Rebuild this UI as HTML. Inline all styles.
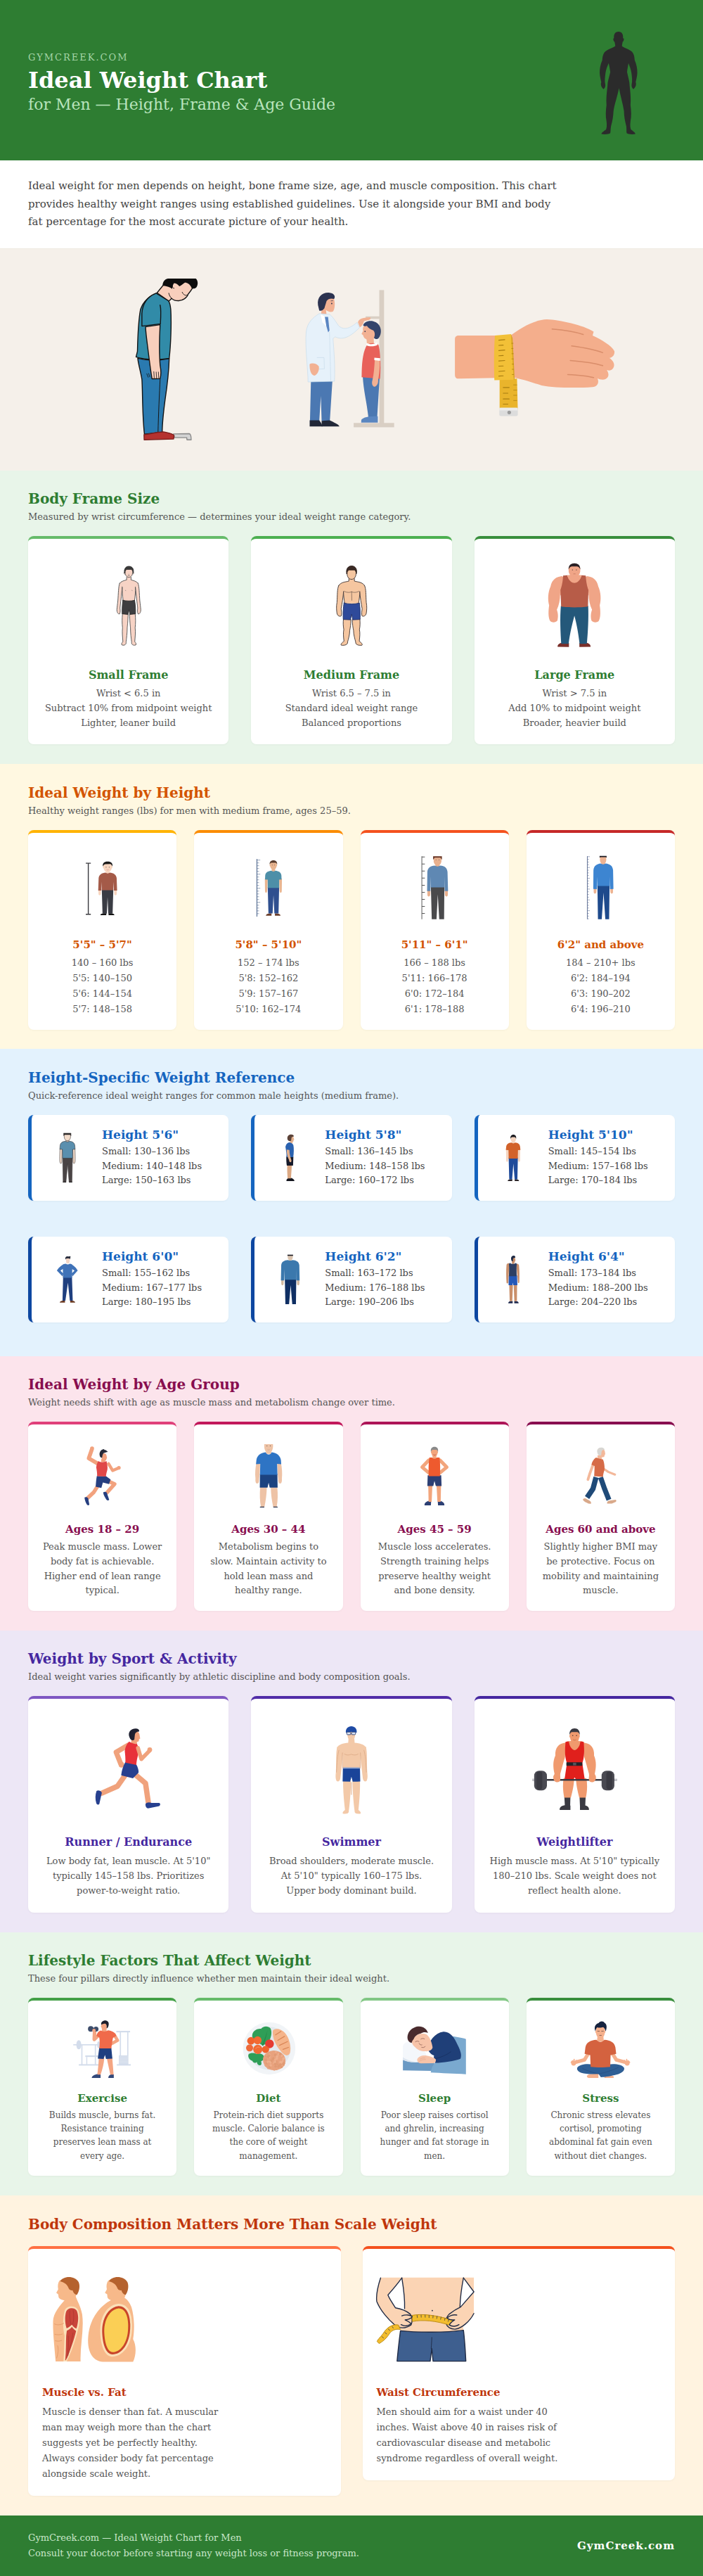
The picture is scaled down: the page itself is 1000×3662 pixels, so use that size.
<!DOCTYPE html>
<html lang="en">
<head>
<meta charset="utf-8">
<title>Ideal Weight Chart for Men</title>
<style>
*{box-sizing:border-box;margin:0;padding:0}
html,body{width:1000px;background:#fff}
body{font-family:"DejaVu Serif","Liberation Serif",serif;color:#444}
.hdr{background:#2e7d32;height:228px;padding:74px 40px 0 40px}
.hdr .site{font-size:13px;letter-spacing:2px;color:#a5d6a7;line-height:16px}
.hdr h1{font-size:32px;line-height:38px;color:#fff;font-weight:bold;margin-top:5px}
.hdr .sub{font-size:22px;line-height:26px;color:#b9e4bd;margin-top:3px}
svg.ab{position:absolute;display:block;overflow:visible}
body{position:relative}
.intro{background:#fff;padding:24px 40px;font-size:15px;line-height:25.5px;color:#444;height:125px}
.intro p{width:760px}
.strip{background:#f5f0ea;height:316px;border-top:1px solid #efeae2}
.sec{padding:28px 40px 28px 40px}
.sec h2{font-size:20px;line-height:24px;font-weight:bold;padding-top:1px}
.sec .lead{font-size:13px;line-height:15px;color:#555;margin-top:6px;margin-bottom:20px}
.grid{display:flex;gap:32px}
.grid.g4{gap:25px}
.grid.g2{gap:31px;align-items:flex-start}
.card{background:#fff;border-radius:8px;border-top:4px solid #66bb6a;flex:1 1 0;min-width:0;text-align:center;padding:24px 20px 20px;box-shadow:0 1px 3px rgba(0,0,0,.04)}
.card .ill{display:flex;align-items:center;justify-content:center;margin:0 auto}
.ill svg{display:block}
.i120{height:140px}
.i100{height:110px}
.i90{height:100px}
.s6 .i90{height:90px}
.i130{height:150px}
.card h3{font-size:15px;line-height:18px;font-weight:bold;margin-top:16px;margin-bottom:5px}
.s1 .card h3,.s5 .card h3{font-size:16px;line-height:19px;margin-top:20px;margin-bottom:8px}
.card p{font-size:13px;line-height:20.8px;color:#555}
.s2 .card p{line-height:22px}
.s2 .card{padding-bottom:18px}.s2 .card h3{margin-bottom:6px}
.s4 .card{padding-bottom:18px}.s4 .card h3{margin-bottom:6px}
.s5 .card{padding-bottom:21px}.s1 .card h3{margin-bottom:7px}
.s6 .card{padding-bottom:18px}.s6 .card h3{margin-bottom:7px}
.s1,.s4,.s5,.s6{padding-top:27px}
.s6 .card p{font-size:12px;line-height:19.2px;margin-top:-1px}
.s1{background:#e8f5e9;height:417px}.s1 h2,.s1 h3{color:#2e7d32}
.s2{background:#fff8e1;height:405px}.s2 h2,.s2 h3{color:#d35400}
.s3{background:#e3f2fd;height:437px}.s3 h2,.s3 h3{color:#1565c0}
.s4{background:#fce4ec;height:390px}.s4 h2,.s4 h3{color:#880e4f}
.s5{background:#ede7f6;height:429px}.s5 h2,.s5 h3{color:#4527a0}
.s6{background:#e8f5e9;height:374px}.s6 h2,.s6 h3{color:#2e7d32}
.s7{background:#fff3e0;height:455px}.s7 h2,.s7 h3{color:#bf360c}
.c1a{border-top-color:#66bb6a}.c1b{border-top-color:#4caf50}.c1c{border-top-color:#388e3c}
.c2a{border-top-color:#ffb300}.c2b{border-top-color:#fb8c00}.c2c{border-top-color:#f4511e}.c2d{border-top-color:#c62828}
.c4a{border-top-color:#e0407a}.c4b{border-top-color:#c2185b}.c4c{border-top-color:#ad1457}.c4d{border-top-color:#880e4f}
.c5a{border-top-color:#7e57c2}.c5b{border-top-color:#512da8}.c5c{border-top-color:#4527a0}
.c6a{border-top-color:#43a047}.c6b{border-top-color:#66bb6a}.c6c{border-top-color:#81c784}.c6d{border-top-color:#388e3c}
.hcard{background:#fff;border-radius:8px;border-left:5px solid #1565c0;flex:1 1 0;min-width:0;height:122px;padding:18px 18px 18px 18px;display:flex;align-items:center;box-shadow:0 1px 3px rgba(0,0,0,.04)}
.hcard.dk{border-left-color:#0d47a1}
.hcard .ill{width:64px;height:80px;margin-right:18px;flex:none;display:flex;align-items:center;justify-content:center}
.hcard h3{font-size:17px;line-height:20px;font-weight:bold;margin-bottom:4px}
.hcard p{font-size:13px;line-height:20.8px;color:#444}
.row2{margin-top:51px}
.s7 h2{margin-bottom:19px}
.c7{border-top-color:#ff7043;text-align:left;padding:20px 20px 20px}
.c7 .ill{justify-content:flex-start;margin:0}
.c7b{border-top-color:#f4511e}
.i140{height:160px}
.i100b{height:160px}
.c7 h3{margin-top:15px;margin-bottom:8px}
.c7 p{line-height:22.1px;max-width:262px}
.ftr{background:#2e7d32;height:86px;padding:0 40px;display:flex;justify-content:space-between;align-items:center;color:#c8e6c9;font-size:13px;line-height:22px}
.ftr b{color:#fff;font-size:15px;letter-spacing:1px}
</style>
</head>
<body>
<div class="hdr">
  <div class="site">GYMCREEK.COM</div>
  <h1>Ideal Weight Chart</h1>
  <div class="sub">for Men — Height, Frame &amp; Age Guide</div>
  <svg class="ab" style="left:830px;top:30px" width="100" height="175" viewBox="0 0 703 1230"><path fill="#2b2b2b" d="M350,105 C385,105 400,135 395,170 L405,175 L400,200 L392,205 C388,225 385,240 385,250 C400,265 440,275 470,295 C500,310 510,350 512,390 C530,430 540,480 538,520 C536,560 525,590 522,610 C530,630 525,660 500,680 C485,670 478,650 482,630 C490,600 485,560 480,520 C475,480 460,450 450,420 C445,450 438,480 436,510 C445,560 462,600 462,650 C470,720 475,780 470,840 C478,900 480,950 470,1000 C465,1040 468,1070 475,1085 C495,1100 520,1115 518,1128 C490,1135 445,1130 432,1120 C428,1100 432,1080 428,1050 C415,1000 405,950 405,900 C395,830 370,750 355,670 C340,750 310,830 300,900 C298,950 290,1000 275,1050 C270,1080 272,1100 268,1120 C255,1130 210,1135 180,1128 C178,1115 205,1100 225,1085 C232,1070 235,1040 230,1000 C220,950 222,900 230,840 C225,780 232,720 240,650 C240,600 258,560 268,510 C265,480 258,450 252,420 C240,450 225,480 220,520 C215,560 210,600 218,630 C222,650 215,670 200,680 C175,660 170,630 178,610 C175,590 164,560 162,520 C160,480 170,430 188,390 C190,350 200,310 230,295 C260,275 300,265 318,250 C318,240 315,225 310,205 L302,200 L297,175 L305,170 C300,135 315,105 350,105 Z"/></svg>
</div>
<div class="intro"><p>Ideal weight for men depends on height, bone frame size, age, and muscle composition. This chart provides healthy weight ranges using established guidelines. Use it alongside your BMI and body fat percentage for the most accurate picture of your health.</p></div>
<div class="strip"><svg class="ab" style="left:170px;top:380px" width="140" height="260" viewBox="0 0 703 1306"><g stroke="#141414" stroke-width="7" stroke-linejoin="round" stroke-linecap="round">
<path fill="#d4d4d4" stroke="#8a8a8a" d="M385,1190 L498,1188 C510,1190 512,1210 512,1232 L482,1232 L480,1216 L392,1216 Z"/>
<path fill="#2a7ab0" d="M130,650 C200,668 290,664 355,652 C352,750 340,850 325,950 C312,1050 305,1120 305,1178 L178,1192 C162,1050 166,900 160,800 C150,740 136,700 130,650 Z"/>
<path fill="none" d="M290,800 C285,900 278,1050 275,1180" stroke-width="5"/>
<path fill="#b5322f" stroke="#7a1f1c" d="M175,1195 C230,1188 290,1172 320,1176 C350,1182 385,1188 390,1202 L386,1226 L176,1232 Z"/>
<path fill="#f8cfbc" d="M268,182 L352,242 L372,222 C400,246 440,242 465,224 C480,214 488,202 490,192 C500,180 512,165 520,150 C510,125 490,108 470,105 C440,100 400,105 380,112 C355,118 330,128 312,128 Z"/>
<path fill="#0d0d0d" stroke="none" d="M308,126 C310,100 325,84 345,80 L545,80 C562,95 562,125 550,142 C542,152 528,154 519,151 C512,130 495,112 472,106 C455,118 440,132 428,136 C418,122 402,110 388,113 C380,126 378,142 376,154 C362,140 340,134 308,130 Z"/>
<path fill="none" d="M383,118 C372,135 378,150 390,150" stroke-width="5"/>
<path fill="none" d="M448,178 C455,195 470,205 484,198" stroke-width="5"/>
<path fill="none" d="M352,185 C355,200 362,212 372,222" stroke-width="5"/>
<path fill="#318ba8" d="M262,185 C220,200 170,240 150,300 C135,380 130,500 128,600 L118,640 C180,662 280,662 355,650 C366,560 372,400 366,300 C362,262 356,248 350,240 Z"/>
<path fill="#f8cfbc" d="M186,425 L290,410 C285,500 282,600 290,700 C298,740 296,775 290,795 L232,796 C222,740 210,640 200,560 C192,500 187,460 186,425 Z"/>
<path fill="#318ba8" d="M262,185 C210,205 165,250 160,330 L160,420 L292,404 C296,340 298,300 290,270" />
<path fill="none" d="M245,745 L248,790 M262,748 L265,792 M278,748 L280,790 M195,760 L205,785 M208,758 L216,782" stroke-width="4"/>
</g></svg><svg class="ab" style="left:420px;top:390px" width="160" height="240" viewBox="0 0 703 1054"><rect x="525" y="98" width="30" height="835" fill="#d9cfc4"/>
<rect x="365" y="928" width="253" height="27" fill="#d9cfc4"/>
<rect x="440" y="262" width="90" height="16" fill="#d9cfc4"/>
<!-- boy -->
<path fill="#4b78b2" d="M422,640 L527,648 L512,892 L457,892 C447,800 426,720 422,640 Z"/>
<path fill="#5a86c0" d="M413,908 C428,892 450,886 516,886 L516,926 L412,926 Z"/>
<path fill="#f2b193" d="M445,395 L490,395 L492,440 L448,440 Z"/>
<path fill="#e8615a" d="M450,438 C430,470 415,520 415,642 L530,652 C536,580 532,480 520,440 C500,426 470,426 450,438 Z"/>
<path fill="#fff" d="M446,428 C465,440 495,438 510,424 L514,440 C495,452 462,452 444,442 Z"/>
<path fill="#f2b193" d="M497,532 L528,536 C530,580 524,630 518,660 C520,680 510,700 495,702 C482,700 476,680 482,662 C492,620 494,580 497,532 Z"/>
<path fill="#fff" d="M494,520 L531,524 L530,540 L494,536 Z"/>
<path fill="#f2b193" d="M432,318 C455,300 500,305 508,350 C512,385 490,410 465,410 C445,410 428,400 424,380 L414,372 L424,352 C420,340 424,326 432,318 Z"/>
<path fill="#33446b" d="M424,318 C430,295 470,280 505,300 C540,320 545,370 520,400 C510,408 498,404 492,396 C500,380 498,360 488,350 C470,345 455,335 448,322 C440,324 430,325 424,318 Z"/>
<!-- doctor -->
<path fill="#4b78b2" d="M98,668 L232,666 L216,916 L165,916 L160,760 L150,916 L92,916 Z"/>
<path fill="#222838" d="M90,912 L150,912 C160,925 168,940 170,950 L90,950 Z"/>
<path fill="#222838" d="M165,915 L215,912 C240,925 270,935 276,950 L165,950 Z"/>
<path fill="#f2b193" d="M180,160 C195,146 225,146 242,152 C250,180 248,215 236,232 C222,240 202,232 192,222 L196,256 L160,256 L166,215 Z"/>
<path fill="#2c3350" d="M142,192 C135,140 170,110 215,115 C248,118 252,142 242,154 C225,148 205,152 196,166 C192,180 188,192 182,212 C172,226 160,230 150,226 Z"/>
<circle cx="228" cy="182" r="4" fill="#2c3350"/><path d="M222,166 L236,164" stroke="#2c3350" stroke-width="3"/><circle cx="436" cy="356" r="4" fill="#2c3350"/>
<path fill="#e6f1fa" stroke="#c7dbea" stroke-width="3" d="M150,245 C110,270 75,300 68,360 C60,450 80,600 80,672 L245,668 C250,560 240,460 236,400 L250,390 C290,410 335,400 402,332 L386,300 C340,340 300,350 270,320 C250,290 232,262 215,250 Z"/>
<path fill="#fff" d="M158,248 L182,262 L200,330 L170,300 Z"/>
<path fill="#5b86c2" d="M185,266 L205,266 L214,350 L206,362 L194,322 Z"/>
<path fill="none" stroke="#c7dbea" stroke-width="3" d="M214,360 L222,668 M135,520 L180,520 L182,590 L140,592"/>
<path fill="#f2b193" d="M392,300 C395,280 420,270 466,268 C474,270 472,282 462,284 L430,292 C425,310 415,325 404,330 Z"/>
<path fill="#f2b193" d="M90,560 C105,552 135,556 148,575 C150,600 140,625 120,632 C100,630 88,600 90,560 Z"/></svg><svg class="ab" style="left:630px;top:440px" width="260" height="170" viewBox="0 0 703 460"><path fill="#f4ae8c" d="M60,100 L260,100 C300,70 350,40 400,38 C450,40 540,60 580,85 L576,100 C610,115 650,140 660,160 C662,176 650,186 640,186 C656,196 664,212 655,226 C648,236 635,236 630,232 C640,246 640,260 625,268 C615,272 600,268 595,265 C602,280 595,298 575,298 C520,302 430,302 380,292 C340,280 300,266 270,262 L60,266 C50,266 46,260 46,250 L46,115 C46,106 50,100 60,100 Z"/>
<g stroke="#d98d6a" stroke-width="4" stroke-linecap="round" fill="none">
<path d="M420,75 C460,78 510,86 540,96"/><path d="M495,140 C540,146 590,156 615,166"/><path d="M490,196 C540,200 590,208 615,216"/><path d="M480,250 C520,252 560,256 580,262"/>
</g>
<path fill="#e9b42c" d="M218,268 L285,266 L288,385 L218,385 Z"/>
<path fill="#f2c037" d="M200,100 L262,95 C268,150 272,220 272,270 L198,272 C196,220 196,150 200,100 Z"/>
<path fill="#d9a520" d="M262,95 L268,110 L276,268 L272,270 Z"/>
<g stroke="#a87d10" stroke-width="3" stroke-linecap="round">
<path d="M215,118 L238,116 M215,138 L232,137 M215,158 L238,156 M215,178 L232,177 M215,198 L238,196 M215,218 L232,217 M215,238 L238,236 M215,256 L232,255"/>
<path d="M232,300 L255,300 M232,322 L250,322 M232,344 L255,344 M232,364 L250,364"/>
<path d="M264,130 L270,130 M264,150 L270,150 M265,170 L271,170 M265,190 L271,190 M266,210 L272,210 M266,230 L272,230 M266,250 L272,250 M272,290 L284,290 M272,310 L284,310 M272,330 L284,330 M272,350 L284,350" stroke-width="2"/>
</g>
<rect x="217" y="378" width="71" height="32" rx="6" fill="#dcdcdc"/>
<rect x="217" y="378" width="71" height="10" fill="#ececec"/>
<circle cx="255" cy="396" r="7" fill="#9a9a9a"/></svg></div>

<div class="sec s1">
  <h2>Body Frame Size</h2>
  <div class="lead">Measured by wrist circumference — determines your ideal weight range category.</div>
  <div class="grid">
    <div class="card c1a"><div class="ill i120"><svg class="ab" style="left:140px;top:790px" width="90" height="140" viewBox="0 0 703 1094"><g stroke="#4d4d4d" stroke-width="7" stroke-linejoin="round" stroke-linecap="round" fill="#f7d3c5">
<path d="M268,640 L330,648 C328,720 324,760 320,800 C320,860 312,920 307,958 C312,985 292,1000 262,992 C250,985 262,965 272,955 C268,900 262,850 268,800 C262,750 262,700 268,640 Z"/>
<path d="M408,640 L346,648 C348,720 352,760 356,800 C356,860 364,920 369,958 C364,985 384,1000 414,992 C426,985 414,965 404,955 C408,900 414,850 408,800 C414,750 414,700 408,640 Z"/>
<path d="M236,305 C222,340 222,420 216,500 C211,540 208,570 205,600 C205,630 220,652 236,646 C246,620 241,600 240,580 C246,520 256,450 266,340 Z"/>
<path d="M440,305 C454,340 454,420 460,500 C465,540 468,570 471,600 C471,630 456,652 440,646 C430,620 435,600 436,580 C430,520 420,450 410,340 Z"/>
<path stroke="none" d="M312,235 L314,268 C290,276 250,282 236,308 L266,345 C262,400 268,440 275,500 L401,500 C408,440 414,400 410,345 L440,308 C426,282 386,276 362,268 L364,235 Z"/>
<path fill="none" d="M313,240 L314,268 C290,276 250,282 236,308 M363,240 L362,268 C386,276 426,282 440,308 M266,350 C262,400 268,440 275,500 M410,350 C414,400 408,440 401,500"/>
<path d="M296,185 C294,150 310,130 338,130 C366,130 382,150 380,185 C380,215 362,240 338,240 C314,240 296,215 296,185 Z"/>
<path fill="#f7d3c5" d="M290,180 C282,180 282,205 294,208 M386,180 C394,180 394,205 382,208" stroke-width="5"/>
<path fill="#3a3a3a" stroke="#2e2e2e" d="M290,192 C280,140 310,116 340,118 C376,118 396,146 388,192 C385,172 376,156 366,152 L312,152 C300,160 294,175 290,192 Z"/>
<path fill="#3e3e40" stroke="#2a2a2a" d="M272,495 C310,505 365,505 402,495 C410,540 414,600 412,646 L350,652 L340,600 L328,652 L264,646 C262,600 265,540 272,495 Z"/>
<path fill="none" stroke-width="4" d="M300,385 l4,2 M372,385 l4,2 M338,205 l0,8 M328,222 l18,0"/>
</g></svg></div><h3>Small Frame</h3><p>Wrist &lt; 6.5 in<br>Subtract 10% from midpoint weight<br>Lighter, leaner build</p></div>
    <div class="card c1b"><div class="ill i120"><svg class="ab" style="left:455px;top:790px" width="90" height="140" viewBox="0 0 703 1094"><g stroke="#3a3030" stroke-width="7" stroke-linejoin="round" stroke-linecap="round" fill="#f5c6a0">
<path d="M262,700 L345,708 C345,760 338,800 332,830 C332,880 315,930 308,960 C312,985 280,1000 238,994 C226,985 250,962 268,950 C262,900 258,860 266,820 C258,780 258,740 262,700 Z"/>
<path d="M444,700 L361,708 C361,760 368,800 374,830 C374,880 391,930 398,960 C394,985 426,1000 468,994 C480,985 456,962 438,950 C444,900 448,860 440,820 C448,780 448,740 444,700 Z"/>
<path d="M210,330 C190,370 196,440 190,520 C182,560 184,600 190,640 C196,668 222,680 238,668 C244,640 240,620 236,590 C246,530 258,470 264,390 Z"/>
<path d="M496,330 C516,370 510,440 516,520 C524,560 522,600 516,640 C510,668 484,680 468,668 C462,640 466,620 470,590 C460,530 448,470 442,390 Z"/>
<path stroke="none" d="M322,250 L322,282 C290,292 230,290 208,335 L262,395 C262,440 268,480 276,530 L430,530 C438,480 444,440 444,395 L498,335 C476,290 416,292 384,282 L384,250 Z"/>
<path fill="none" d="M322,255 L322,282 C290,292 230,290 208,335 M384,255 L384,282 C416,292 476,290 498,335 M263,400 C262,440 268,480 276,530 M443,400 C444,440 438,480 430,530"/>
<path d="M302,195 C300,150 318,128 352,128 C386,128 404,150 402,195 C402,235 382,262 352,262 C322,262 302,235 302,195 Z"/>
<path fill="#3b2a25" stroke="#2a1c18" d="M298,200 C286,140 320,112 354,114 C392,114 418,146 406,200 C402,176 394,162 384,158 L322,158 C308,166 302,182 298,200 Z"/>
<path fill="#2f4a9a" stroke="#1f2f66" d="M268,525 C320,540 390,540 440,525 C448,580 450,650 446,708 L366,712 L353,650 L340,712 L260,708 C256,650 258,580 268,525 Z"/>
<path fill="none" stroke-width="4" d="M270,395 C300,412 335,410 352,400 C370,410 405,412 434,395 M353,400 L355,495"/>
</g></svg></div><h3>Medium Frame</h3><p>Wrist 6.5 – 7.5 in<br>Standard ideal weight range<br>Balanced proportions</p></div>
    <div class="card c1c"><div class="ill i120"><svg class="ab" style="left:760px;top:790px" width="110" height="140" viewBox="0 0 703 895"><path fill="#7a2f2a" d="M212,828 C210,805 235,792 262,790 L315,792 L315,830 Z M512,828 C514,805 490,792 462,790 L410,792 L410,830 Z"/>
<path fill="#24587a" d="M242,455 L490,455 C495,560 488,700 478,800 L412,800 C400,700 385,620 365,545 C345,620 325,700 312,800 L245,800 C238,700 232,560 242,455 Z"/>
<path fill="#f0a587" d="M330,160 L400,160 L405,200 L325,200 Z"/>
<path fill="#f0a587" d="M255,185 C200,190 160,215 148,280 C125,330 120,400 135,450 C128,500 125,560 145,595 C165,612 195,608 210,590 C220,550 215,520 205,490 C225,450 235,400 235,350 Z"/>
<path fill="#f0a587" d="M475,185 C530,190 570,215 582,280 C605,330 610,400 595,450 C602,500 605,560 585,595 C565,612 535,608 520,590 C510,550 515,520 525,490 C505,450 495,400 495,350 Z"/>
<path fill="#f0a587" d="M240,190 L490,190 L495,360 L235,360 Z"/>
<path fill="#b75c48" d="M262,180 L300,178 C310,230 345,248 365,248 C385,248 420,230 430,178 L468,180 C470,230 480,280 492,310 L488,462 C420,472 310,472 244,462 L238,310 C250,280 260,230 262,180 Z"/>
<path fill="#f0a587" d="M300,178 C310,225 345,240 365,240 C385,240 420,225 430,178 C400,170 330,170 300,178 Z"/>
<path fill="#f0a587" d="M312,130 C308,95 330,80 365,80 C400,80 422,95 418,130 C420,170 395,192 365,192 C335,192 310,170 312,130 Z"/>
<path fill="#2a2024" d="M312,125 C310,85 335,68 365,68 C395,68 420,85 418,125 C412,108 402,100 390,98 L340,98 C328,100 318,108 312,125 Z"/>
<circle cx="347" cy="128" r="4" fill="#3a2a2a"/><circle cx="383" cy="128" r="4" fill="#3a2a2a"/>
<path d="M355,165 L375,165" stroke="#a05a48" stroke-width="3"/></svg></div><h3>Large Frame</h3><p>Wrist &gt; 7.5 in<br>Add 10% to midpoint weight<br>Broader, heavier build</p></div>
  </div>
</div>

<div class="sec s2">
  <h2>Ideal Weight by Height</h2>
  <div class="lead">Healthy weight ranges (lbs) for men with medium frame, ages 25–59.</div>
  <div class="grid g4">
    <div class="card c2a"><div class="ill i100"><svg class="ab" style="left:100px;top:1215px" width="90" height="95" viewBox="0 0 703 742"><path d="M200,95 L200,662 M172,95 L228,95 M172,662 L228,662" stroke="#3a3a3f" stroke-width="11" fill="none"/>
<path fill="#141414" d="M335,672 C335,655 360,648 400,650 L400,672 Z M490,672 C490,655 465,648 425,650 L425,672 Z"/>
<path fill="#3a3c44" d="M350,385 L478,385 L470,655 L422,655 L414,470 L406,655 L358,655 Z"/>
<path fill="#f8d6c0" d="M312,390 L342,390 L340,440 C335,455 318,455 314,440 Z M487,390 L517,390 L515,440 C510,455 493,455 489,440 Z"/>
<path fill="#f8d6c0" d="M395,180 L435,180 L435,215 L395,215 Z"/>
<path fill="#a45a48" d="M392,200 C405,212 425,212 438,200 C480,205 510,220 515,260 L520,398 L485,398 L480,300 L478,395 L350,395 L348,300 L344,398 L310,398 L315,260 C320,220 350,205 392,200 Z"/>
<path fill="#f8d6c0" d="M368,125 C368,95 390,85 415,85 C440,85 462,95 462,125 C470,125 470,150 460,152 C455,180 435,195 415,195 C395,195 375,180 370,152 C360,150 360,125 368,125 Z"/>
<path fill="#1a1a1a" d="M362,130 C355,95 380,75 415,76 C450,75 475,95 468,130 C462,118 455,108 445,104 L390,106 C378,108 368,118 362,130 Z"/>
<circle cx="398" cy="138" r="4" fill="#2a2a2a"/><circle cx="432" cy="138" r="4" fill="#2a2a2a"/>
<path d="M403,165 C410,172 420,172 427,165" stroke="#c77" stroke-width="4" fill="none"/></svg></div><h3>5'5" – 5'7"</h3><p>140 – 160 lbs<br>5'5: 140–150<br>5'6: 144–154<br>5'7: 148–158</p></div>
    <div class="card c2b"><div class="ill i100"><svg class="ab" style="left:335px;top:1215px" width="90" height="95" viewBox="0 0 703 742"><path d="M238,48 L238,688" stroke="#2e4a78" stroke-width="7"/>
<path d="M238,60 L275,60 M238,91.3158 L262,91.3158 M238,122.632 L262,122.632 M238,153.947 L262,153.947 M238,185.263 L262,185.263 M238,216.579 L275,216.579 M238,247.895 L262,247.895 M238,279.211 L262,279.211 M238,310.526 L262,310.526 M238,341.842 L262,341.842 M238,373.158 L275,373.158 M238,404.474 L262,404.474 M238,435.789 L262,435.789 M238,467.105 L262,467.105 M238,498.421 L262,498.421 M238,529.737 L275,529.737 M238,561.053 L262,561.053 M238,592.368 L262,592.368 M238,623.684 L262,623.684 M238,655 L262,655" stroke="#2e4a78" stroke-width="4" fill="none"/>
<path fill="#6b3e2a" d="M338,678 C338,660 360,650 400,652 L400,678 Z M500,678 C500,660 478,650 438,652 L438,678 Z"/>
<path fill="#2f4f8f" d="M358,360 L485,360 L478,652 L432,652 L422,450 L412,652 L366,652 Z"/>
<path fill="#e9b590" d="M326,265 L358,265 L352,400 C350,430 330,432 328,405 Z M484,265 L516,265 L514,405 C512,432 492,430 490,400 Z"/>
<path fill="#e9b590" d="M402,150 L440,150 L440,195 L402,195 Z"/>
<path fill="#4e8fa8" d="M398,178 C410,190 432,190 444,178 C480,182 505,195 510,230 L512,275 L484,278 L485,370 L358,370 L358,278 L328,275 L330,230 C335,195 362,182 398,178 Z"/>
<path fill="#e9b590" d="M384,105 C384,78 402,70 421,70 C440,70 458,78 458,105 C464,105 464,128 456,130 C452,152 438,165 421,165 C404,165 390,152 386,130 C378,128 378,105 384,105 Z"/>
<path fill="#5a3d2e" d="M380,110 C374,78 398,62 421,62 C446,62 468,78 462,110 C458,98 452,92 444,90 L400,90 C390,92 384,98 380,110 Z"/>
<circle cx="408" cy="115" r="3.5" fill="#3a2a2a"/><circle cx="434" cy="115" r="3.5" fill="#3a2a2a"/></svg></div><h3>5'8" – 5'10"</h3><p>152 – 174 lbs<br>5'8: 152–162<br>5'9: 157–167<br>5'10: 162–174</p></div>
    <div class="card c2c"><div class="ill i100"><svg class="ab" style="left:570px;top:1205px" width="90" height="110" viewBox="0 0 703 859"><path d="M235,95 L235,795" stroke="#8a8a8a" stroke-width="11"/>
<path d="M235,103 L268,103 M235,181.5 L268,181.5 M235,260 L268,260 M235,338.5 L268,338.5 M235,417 L268,417 M235,495.5 L268,495.5 M235,574 L268,574 M235,652.5 L268,652.5 M235,731 L268,731" stroke="#555" stroke-width="8" fill="none"/>
<path fill="#4a4a4c" d="M335,430 L485,430 L482,795 L428,795 L412,520 L398,795 L345,795 Z"/>
<path fill="#e8b08e" d="M296,475 L330,475 L328,525 C322,548 300,548 297,525 Z M490,475 L524,475 L523,525 C520,548 498,548 492,525 Z"/>
<path fill="#e8b08e" d="M385,170 L432,170 L432,215 L385,215 Z"/>
<path fill="#5f88b3" d="M380,200 C395,212 422,212 438,200 C490,205 515,225 520,270 L526,482 L488,482 L485,320 L485,442 L335,442 L335,320 L330,482 L293,482 L296,270 C300,225 328,205 380,200 Z"/>
<path fill="#e8b08e" d="M366,100 L452,100 L452,150 C450,180 430,198 409,198 C388,198 368,180 366,150 Z"/>
<path fill="#6b3a2a" d="M360,95 L458,95 L458,135 L448,120 L440,112 L378,112 L370,120 L360,135 Z"/>
<circle cx="392" cy="135" r="3.5" fill="#3a2a2a"/><circle cx="426" cy="135" r="3.5" fill="#3a2a2a"/></svg></div><h3>5'11" – 6'1"</h3><p>166 – 188 lbs<br>5'11: 166–178<br>6'0: 172–184<br>6'1: 178–188</p></div>
    <div class="card c2d"><div class="ill i100"><svg class="ab" style="left:805px;top:1205px" width="90" height="110" viewBox="0 0 703 859"><path d="M238,95 L238,795" stroke="#3a4d7a" stroke-width="6"/>
<path d="M238,100 L266,100 M238,130 L256,130 M238,160 L256,160 M238,190 L256,190 M238,220 L266,220 M238,250 L256,250 M238,280 L256,280 M238,310 L256,310 M238,340 L266,340 M238,370 L256,370 M238,400 L256,400 M238,430 L256,430 M238,460 L266,460 M238,490 L256,490 M238,520 L256,520 M238,550 L256,550 M238,580 L266,580 M238,610 L256,610 M238,640 L256,640 M238,670 L256,670 M238,700 L266,700 M238,730 L256,730 M238,760 L256,760 M238,790 L256,790" stroke="#4a5d8a" stroke-width="4" fill="none"/>
<path fill="#1e4a8c" d="M350,415 L485,415 L480,795 L438,795 L418,500 L398,795 L356,795 Z"/>
<path fill="#edb392" d="M308,452 L340,452 L338,495 C332,515 312,515 309,495 Z M492,452 L524,452 L523,495 C520,515 500,515 494,495 Z"/>
<path fill="#edb392" d="M392,150 L436,150 L436,192 L392,192 Z"/>
<path fill="#3d85d1" d="M388,176 C400,188 428,188 440,176 C490,182 518,200 524,250 L528,458 L490,460 L486,320 L486,425 L350,425 L350,320 L344,460 L304,458 L306,250 C312,200 340,182 388,176 Z"/>
<path fill="#edb392" d="M378,100 L448,100 L448,140 C446,168 430,182 413,182 C396,182 380,168 378,140 Z"/>
<path fill="#1a1a22" d="M374,92 L452,92 L452,112 L442,106 L384,106 L374,112 Z"/></svg></div><h3>6'2" and above</h3><p>184 – 210+ lbs<br>6'2: 184–194<br>6'3: 190–202<br>6'4: 196–210</p></div>
  </div>
</div>

<div class="sec s3">
  <h2>Height-Specific Weight Reference</h2>
  <div class="lead">Quick-reference ideal weight ranges for common male heights (medium frame).</div>
  <div class="grid">
    <div class="hcard"><div class="ill"><svg class="ab" style="left:60px;top:1595px" width="80" height="100" viewBox="0 0 703 879"><g stroke="#3a3535" stroke-width="5" stroke-linejoin="round">
<path fill="#1a1a1a" stroke="none" d="M255,756 L300,756 L300,744 L262,744 Z M378,756 L335,756 L335,744 L372,744 Z"/>
<path fill="#4a4445" d="M256,445 L378,445 L372,748 L336,748 L318,520 L298,748 L262,748 Z"/>
<path fill="#f3dccb" d="M222,335 L250,335 L246,490 C246,525 226,528 222,500 C216,490 220,400 222,335 Z M410,335 L382,335 L386,490 C386,525 406,528 410,500 C416,490 412,400 410,335 Z"/>
<path fill="#f3dccb" d="M298,215 L334,215 L334,250 L298,250 Z"/>
<path fill="#5a8fae" d="M292,240 C305,250 328,250 340,240 C380,244 402,258 408,290 L412,340 L382,342 L380,452 L254,452 L252,342 L220,340 L224,290 C230,258 252,244 292,240 Z"/>
<path fill="#f3dccb" d="M274,150 L356,150 L354,195 C350,222 332,234 315,234 C298,234 280,222 276,195 Z"/>
<path fill="#2a2a2a" d="M268,140 L360,140 L360,172 L352,158 L278,158 L270,172 Z"/>
</g></svg></div><div><h3>Height 5'6"</h3><p>Small: 130–136 lbs<br>Medium: 140–148 lbs<br>Large: 150–163 lbs</p></div></div>
    <div class="hcard"><div class="ill"><svg class="ab" style="left:375px;top:1595px" width="80" height="100" viewBox="0 0 703 879"><path fill="#14161f" d="M285,738 C283,715 300,700 330,695 L350,700 C368,710 385,718 385,738 Z"/>
<path fill="#dba883" d="M296,535 L352,535 C350,600 345,650 342,705 L300,705 C296,650 292,600 296,535 Z"/>
<path fill="#161a2a" d="M284,432 L372,432 L368,545 L290,545 C284,510 282,470 284,432 Z"/>
<path fill="#e3b08c" d="M332,225 L362,225 L362,268 L328,268 Z"/>
<path fill="#2a62b0" d="M322,255 C345,260 362,265 372,290 C380,330 378,390 370,440 L285,440 C290,400 280,360 275,320 C275,285 295,260 322,255 Z"/>
<path fill="#e3b08c" d="M288,340 L322,345 C322,400 335,440 345,470 C352,490 345,505 332,502 C322,500 318,488 318,475 C300,440 288,400 288,340 Z"/>
<path fill="#2a62b0" d="M276,310 C278,280 300,262 325,268 L326,350 L284,345 Z"/>
<path fill="#e3b08c" d="M330,185 C345,172 372,175 376,200 L382,222 L374,226 L372,245 C360,256 342,252 334,240 Z"/>
<path fill="#5b4238" d="M298,215 C290,175 320,152 355,158 C372,160 380,172 376,182 C362,180 350,186 348,200 L344,232 C330,245 305,240 298,215 Z"/></svg></div><div><h3>Height 5'8"</h3><p>Small: 136–145 lbs<br>Medium: 148–158 lbs<br>Large: 160–172 lbs</p></div></div>
    <div class="hcard"><div class="ill"><svg class="ab" style="left:690px;top:1595px" width="80" height="100" viewBox="0 0 703 879"><path fill="#2a2428" d="M283,738 C283,720 305,712 340,714 L340,738 Z M425,738 C425,720 403,712 370,714 L370,738 Z"/>
<path fill="#1f4a9a" d="M295,445 L410,445 L404,716 L370,716 L354,520 L338,716 L302,716 Z"/>
<path fill="#f5d5c0" d="M262,340 L292,340 L288,480 C286,505 266,505 264,482 Z M440,340 L410,340 L414,480 C416,505 436,505 438,482 Z"/>
<path fill="#f5d5c0" d="M336,235 L370,235 L370,272 L336,272 Z"/>
<path fill="#d2622a" d="M330,258 C342,270 364,270 376,258 C412,262 435,278 438,310 L442,350 L412,352 L410,458 L294,458 L292,352 L260,350 L264,310 C268,278 292,262 330,258 Z"/>
<path fill="#f5d5c0" d="M322,205 C322,178 336,168 353,168 C370,168 384,178 384,205 C390,205 390,225 383,227 C380,245 366,256 353,256 C340,256 326,245 323,227 C316,225 316,205 322,205 Z"/>
<path fill="#1a1a1f" d="M318,210 C312,176 332,158 353,158 C376,158 394,176 388,210 C384,196 378,190 370,188 L336,188 C328,190 322,196 318,210 Z"/></svg></div><div><h3>Height 5'10"</h3><p>Small: 145–154 lbs<br>Medium: 157–168 lbs<br>Large: 170–184 lbs</p></div></div>
  </div>
  <div class="grid row2">
    <div class="hcard dk"><div class="ill"><svg class="ab" style="left:60px;top:1770px" width="80" height="100" viewBox="0 0 703 879"><path fill="#6b3a22" d="M220,718 C220,702 245,692 285,692 L285,718 Z M412,718 C412,702 390,692 350,692 L350,718 Z"/>
<path fill="#1f3f7f" d="M262,395 L372,395 L382,694 L346,694 L322,470 L290,694 L254,694 Z"/>
<path fill="#3f72b8" d="M268,240 L280,285 L228,318 L272,365 L252,388 L184,318 C200,290 235,255 268,240 Z M364,240 L352,285 L404,318 L360,365 L380,388 L444,318 C430,290 395,255 364,240 Z"/>
<path fill="#f2d5c5" d="M252,372 L285,372 L285,395 L260,395 Z M380,372 L347,372 L347,395 L372,395 Z"/>
<path fill="#f2d5c5" d="M304,205 L336,205 L336,240 L304,240 Z"/>
<path fill="#fff" d="M298,228 L342,228 L340,242 L300,242 Z"/>
<path fill="#3f72b8" d="M296,234 C308,244 332,244 344,234 C362,236 372,240 376,250 L374,408 L260,408 L258,250 C262,240 275,236 296,234 Z"/>
<path fill="#f2d5c5" d="M298,165 L346,165 L344,200 C342,218 332,228 320,228 C308,228 300,218 298,200 Z"/>
<path fill="#2a2f3f" d="M290,180 C284,150 300,138 325,142 L354,138 C354,160 350,170 346,178 L340,168 L304,168 Z"/></svg></div><div><h3>Height 6'0"</h3><p>Small: 155–162 lbs<br>Medium: 167–177 lbs<br>Large: 180–195 lbs</p></div></div>
    <div class="hcard dk"><div class="ill"><svg class="ab" style="left:375px;top:1770px" width="80" height="100" viewBox="0 0 703 879"><path fill="#0f2f63" d="M265,420 L408,420 L404,738 L358,738 L338,500 L318,738 L272,738 Z"/>
<path fill="#d2b9a0" d="M220,436 L252,436 L250,485 C246,508 224,508 221,485 Z M448,436 L416,436 L418,485 C422,508 444,508 447,485 Z"/>
<path fill="#d9c4b0" d="M314,160 L352,160 L352,200 L314,200 Z"/>
<path fill="#3b78ad" d="M306,186 C320,196 346,196 360,186 C410,190 440,205 446,250 L450,442 L412,442 L410,300 L410,432 L262,432 L262,300 L256,442 L216,442 L220,250 C226,205 256,190 306,186 Z"/>
<path fill="#d9c4b0" d="M300,128 L366,128 L364,160 C360,180 346,190 333,190 C320,190 306,180 302,160 Z"/>
<path fill="#1a1a22" d="M298,120 L368,120 L368,134 L298,134 Z"/></svg></div><div><h3>Height 6'2"</h3><p>Small: 163–172 lbs<br>Medium: 176–188 lbs<br>Large: 190–206 lbs</p></div></div>
    <div class="hcard dk"><div class="ill"><svg class="ab" style="left:690px;top:1770px" width="80" height="100" viewBox="0 0 703 879"><path fill="#1f2a4f" d="M290,728 C290,708 310,698 345,700 L345,728 Z M420,728 C420,708 400,698 365,700 L365,728 Z"/>
<path fill="#c98f6a" d="M302,495 L348,495 L340,702 L308,702 Z M358,495 L400,495 L398,702 L366,702 Z"/>
<path fill="#2458b8" d="M296,380 L400,380 L404,500 L352,500 L348,470 L342,500 L294,500 Z"/>
<path fill="#c98f6a" d="M268,250 C270,232 285,225 300,228 L300,300 C296,350 292,420 290,465 C288,485 270,485 268,465 C264,400 262,320 268,250 Z M424,255 C422,238 408,230 394,234 L396,300 C400,350 408,420 410,462 C412,480 428,480 428,460 C430,400 430,320 424,255 Z"/>
<path fill="#c98f6a" d="M336,200 L366,200 L366,235 L336,235 Z"/>
<path fill="#2d3f63" d="M312,222 C325,240 370,240 384,222 L396,235 C392,290 394,340 396,388 L298,388 C300,340 302,290 298,235 Z"/>
<path fill="#c98f6a" d="M334,162 C340,148 372,148 376,168 L380,196 L374,200 L372,214 C362,224 344,222 338,212 Z"/>
<path fill="#1f2a45" d="M326,180 C320,148 340,128 368,134 C378,138 380,150 376,160 C362,156 352,162 350,176 L348,200 C340,208 330,200 326,180 Z"/></svg></div><div><h3>Height 6'4"</h3><p>Small: 173–184 lbs<br>Medium: 188–200 lbs<br>Large: 204–220 lbs</p></div></div>
  </div>
</div>

<div class="sec s4">
  <h2>Ideal Weight by Age Group</h2>
  <div class="lead">Weight needs shift with age as muscle mass and metabolism change over time.</div>
  <div class="grid g4">
    <div class="card c4a"><div class="ill i90"><svg class="ab" style="left:100px;top:2045px" width="90" height="105" viewBox="0 0 703 820"><g fill="none" stroke-linecap="round" stroke-linejoin="round">
<path d="M300,275 L205,220 L238,125" stroke="#f2a27e" stroke-width="44"/>
<circle cx="242" cy="110" r="22" fill="#f2a27e"/>
<path d="M322,500 L262,595 L185,668" stroke="#f2a27e" stroke-width="42"/>
<path fill="#263f80" stroke="none" d="M158,655 C170,645 190,650 198,662 L212,735 C205,745 190,742 184,732 C170,710 160,685 158,655 Z"/>
<path d="M425,280 L470,355 L535,328" stroke="#f2a27e" stroke-width="34"/>
<circle cx="540" cy="325" r="20" fill="#f2a27e"/>
<path d="M415,470 L492,505 L408,600" stroke="#f2a27e" stroke-width="42"/>
<path fill="#263f80" stroke="none" d="M365,600 C375,588 395,590 405,600 L432,680 C425,692 410,690 402,680 C385,655 370,630 365,600 Z"/>
</g>
<path fill="#263f80" d="M295,415 L400,420 L448,455 L430,505 L362,488 L345,548 L282,535 C285,490 288,450 295,415 Z"/>
<path fill="#f2a27e" d="M345,225 L385,225 L388,262 L342,262 Z"/>
<path fill="#e04848" d="M312,250 C335,268 372,268 402,250 C412,290 416,320 412,345 C405,370 398,395 396,422 L298,418 C300,380 292,340 288,320 C292,290 300,268 312,250 Z"/>
<path fill="#f2a27e" d="M345,180 C350,160 395,158 402,185 L408,218 L402,224 L398,240 C385,252 360,248 352,235 Z"/>
<path fill="#262a38" d="M330,200 C315,160 335,125 372,118 L382,126 L395,128 L418,148 C400,150 385,158 372,160 C360,170 356,190 354,210 C346,215 336,212 330,200 Z"/></svg></div><h3>Ages 18 – 29</h3><p>Peak muscle mass. Lower body fat is achievable. Higher end of lean range typical.</p></div>
    <div class="card c4b"><div class="ill i90"><svg class="ab" style="left:335px;top:2045px" width="90" height="105" viewBox="0 0 703 820"><path fill="#1f2a45" d="M270,766 C270,755 285,750 320,752 L320,766 Z M470,766 C470,755 455,750 420,752 L420,766 Z"/>
<path fill="#eec3a6" d="M274,540 L348,540 C346,620 336,690 322,755 L282,755 C270,690 268,620 274,540 Z M464,540 L392,540 C394,620 404,690 418,755 L458,755 C470,690 472,620 464,540 Z"/>
<path fill="#1c4380" d="M272,392 L465,392 L468,545 L380,545 L368,490 L356,545 L270,545 Z"/>
<path fill="#eec3a6" d="M232,270 L274,275 C270,340 270,400 262,450 C262,480 258,500 240,500 C222,498 220,470 222,445 C215,390 220,330 232,270 Z M505,270 L463,275 C467,340 467,400 475,450 C475,480 479,500 497,500 C515,498 517,470 515,445 C522,390 517,330 505,270 Z"/>
<path fill="#eec3a6" d="M340,130 L396,130 L398,170 L338,170 Z"/>
<path fill="#2e74c4" d="M335,152 C350,185 388,185 402,152 C460,160 498,190 505,240 L508,285 L462,282 L466,402 L272,402 L275,282 L228,285 L232,240 C238,190 275,160 335,152 Z"/>
<path fill="#eec3a6" d="M320,62 L416,62 C420,100 412,160 368,160 C324,160 316,100 320,62 Z"/>
<circle cx="350" cy="82" r="4" fill="#3a2a2a"/><circle cx="386" cy="82" r="4" fill="#3a2a2a"/>
<path d="M355,122 C362,128 374,128 381,122" stroke="#b98" stroke-width="4" fill="none"/></svg></div><h3>Ages 30 – 44</h3><p>Metabolism begins to slow. Maintain activity to hold lean mass and healthy range.</p></div>
    <div class="card c4c"><div class="ill i90"><svg class="ab" style="left:570px;top:2045px" width="90" height="105" viewBox="0 0 703 820"><g fill="none" stroke-linecap="round" stroke-linejoin="round" stroke="#f2a57c" stroke-width="38">
<path d="M312,240 L238,318 L318,385"/><path d="M436,240 L512,318 L430,385"/>
</g>
<path fill="#2c3f73" d="M265,742 C262,715 285,698 320,692 L338,700 L335,742 Z M485,742 C488,715 465,698 430,692 L412,700 L415,742 Z"/>
<path fill="#f2a57c" d="M306,520 L352,520 L344,702 L310,702 Z M398,520 L448,520 L444,702 L408,702 Z"/>
<path fill="#2c3f73" d="M300,408 L450,408 L454,528 L390,528 L375,470 L362,528 L296,528 Z"/>
<path fill="#f2a57c" d="M354,190 L396,190 L396,225 L354,225 Z"/>
<path fill="#ee5a2e" d="M318,210 L350,210 C360,228 390,228 400,210 L432,210 C440,280 440,350 436,418 L312,418 C308,350 308,280 318,210 Z"/>
<path fill="#f2a57c" d="M340,140 C340,112 356,104 375,104 C394,104 410,112 410,140 C416,140 416,162 409,164 C406,190 390,204 375,204 C360,204 344,190 341,164 C334,162 334,140 340,140 Z"/>
<path fill="#8a8a8a" d="M336,150 C328,110 350,92 375,92 C402,92 422,110 414,150 C410,134 404,126 396,124 L356,124 C346,126 340,134 336,150 Z"/>
<path d="M362,178 C370,186 382,186 390,178" stroke="#a33" stroke-width="5" fill="none"/></svg></div><h3>Ages 45 – 59</h3><p>Muscle loss accelerates. Strength training helps preserve healthy weight and bone density.</p></div>
    <div class="card c4d"><div class="ill i90"><svg class="ab" style="left:805px;top:2045px" width="90" height="105" viewBox="0 0 703 820"><g fill="none" stroke-linecap="round" stroke-linejoin="round">
<path d="M300,295 L262,400 L245,455" stroke="#f3b89a" stroke-width="30"/>
<path d="M335,430 L300,560 L235,655" stroke="#1f4a78" stroke-width="58" stroke-linecap="butt"/>
<path d="M385,430 L430,560 L478,680" stroke="#1f4a78" stroke-width="56" stroke-linecap="butt"/>
<path d="M420,335 L470,370 L545,400" stroke="#f3b89a" stroke-width="24"/>
</g>
<path fill="#d9a98a" d="M188,680 C192,665 205,660 220,665 L262,690 C278,700 284,715 278,724 L250,722 C225,712 200,700 188,680 Z M458,722 C455,700 470,690 495,688 L552,680 C562,682 562,695 555,702 L510,722 Z"/>
<path fill="#f3b89a" d="M352,185 L395,185 L400,228 L350,228 Z"/>
<path fill="#d66b47" d="M335,210 C360,222 395,225 412,232 C428,270 432,320 428,350 C418,380 414,400 412,425 L314,418 C316,380 318,340 318,305 L284,290 C290,255 310,225 335,210 Z"/>
<path fill="#f3b89a" d="M372,130 C385,112 425,112 432,140 L438,175 L430,180 L428,200 C415,214 390,210 380,196 Z"/>
<path fill="#d8d6d2" d="M350,160 C338,125 360,98 395,100 C415,100 428,112 430,126 C412,124 398,132 396,148 L392,182 C380,196 358,190 350,160 Z"/></svg></div><h3>Ages 60 and above</h3><p>Slightly higher BMI may be protective. Focus on mobility and maintaining muscle.</p></div>
  </div>
</div>

<div class="sec s5">
  <h2>Weight by Sport &amp; Activity</h2>
  <div class="lead">Ideal weight varies significantly by athletic discipline and body composition goals.</div>
  <div class="grid">
    <div class="card c5a"><div class="ill i130"><svg class="ab" style="left:115px;top:2440px" width="140" height="150" viewBox="0 0 703 753"><g fill="none" stroke-linecap="round" stroke-linejoin="round">
<path d="M338,205 L252,255 L285,338" stroke="#f0a27c" stroke-width="36"/>
<circle cx="290" cy="345" r="20" fill="#f0a27c"/>
<path d="M320,415 L262,498 L150,548" stroke="#f0a27c" stroke-width="38"/>
<path fill="#27408f" stroke="none" d="M112,532 C125,525 142,530 150,545 L132,625 C125,635 112,630 110,618 C102,590 102,560 112,532 Z"/>
<path d="M388,415 L462,478 L482,615" stroke="#f0a27c" stroke-width="38"/>
<path fill="#27408f" stroke="none" d="M462,625 C470,612 490,610 505,618 L560,618 C572,625 568,638 555,642 L480,656 C468,655 460,640 462,625 Z"/>
</g>
<path fill="#27408f" d="M318,325 L396,342 C408,365 414,385 412,402 L372,442 L288,420 C292,385 302,355 318,325 Z"/>
<path fill="#f0a27c" d="M362,160 L398,165 L402,200 L358,195 Z"/>
<path fill="#e8323a" d="M345,180 C365,195 392,198 400,196 C412,215 415,240 410,270 C402,300 398,320 396,346 L318,330 C320,300 316,270 314,248 C318,215 330,195 345,180 Z"/>
<g fill="none" stroke-linecap="round" stroke-linejoin="round">
<path d="M408,225 L432,305 L488,248" stroke="#f0a27c" stroke-width="28"/>
<circle cx="492" cy="238" r="17" fill="#f0a27c"/>
</g>
<path fill="#f0a27c" d="M368,118 C378,100 412,100 418,125 L424,158 L416,162 L414,176 C402,188 380,184 372,172 Z"/>
<path fill="#1e2030" d="M348,150 C332,115 355,85 395,86 C412,88 420,98 416,108 C400,108 388,116 386,130 L382,165 C370,176 355,170 348,150 Z"/></svg></div><h3>Runner / Endurance</h3><p>Low body fat, lean muscle. At 5'10" typically 145–158 lbs. Prioritizes power-to-weight ratio.</p></div>
    <div class="card c5b"><div class="ill i130"><svg class="ab" style="left:430px;top:2440px" width="140" height="150" viewBox="0 0 703 753"><g fill="#f3c9a8">
<path d="M292,460 L348,460 C346,540 340,620 332,675 C335,690 320,698 290,694 C285,685 295,675 305,668 C298,600 290,530 292,460 Z M412,460 L358,460 C360,540 366,620 374,675 C371,690 386,698 416,694 C421,685 411,675 401,668 C408,600 414,530 412,460 Z"/>
<path d="M250,215 C238,260 244,330 240,400 C236,430 238,450 246,462 C258,468 270,460 272,440 C280,380 286,320 290,260 Z M454,215 C466,260 460,330 464,400 C468,430 466,450 458,462 C446,468 434,460 432,440 C424,380 418,320 414,260 Z"/>
<path d="M330,160 L372,160 L374,188 C410,192 445,198 456,225 L416,270 C414,310 412,340 412,372 L290,372 C290,340 288,310 288,270 L248,225 C258,198 292,192 328,188 Z"/>
<path d="M322,120 C322,100 334,92 350,92 C366,92 378,100 378,120 C378,155 366,175 350,175 C334,175 322,155 322,120 Z"/>
</g>
<path fill="#1a4499" d="M290,365 L412,365 L414,465 L360,466 L351,430 L342,466 L288,465 Z"/>
<path fill="#9fb3d9" d="M290,365 L412,365 L412,372 L290,372 Z"/>
<path fill="#1f4ba5" d="M312,118 C306,88 328,70 350,70 C374,70 394,88 388,118 C370,108 330,108 312,118 Z"/>
<rect x="318" y="112" width="28" height="18" rx="4" fill="#dfe7f5" stroke="#1a2f66" stroke-width="4"/><rect x="352" y="112" width="28" height="18" rx="4" fill="#dfe7f5" stroke="#1a2f66" stroke-width="4"/>
<path d="M300,268 C315,278 335,278 350,270 C365,278 385,278 400,268" stroke="#dba885" stroke-width="4" fill="none"/>
<path d="M287,258 C284,300 286,340 289,372 M415,258 C418,300 416,340 413,372 M244,400 C248,330 250,280 262,240 M458,400 C454,330 452,280 440,240 M351,470 L351,560" stroke="#dfae8c" stroke-width="5" fill="none"/></svg></div><h3>Swimmer</h3><p>Broad shoulders, moderate muscle. At 5'10" typically 160–175 lbs. Upper body dominant build.</p></div>
    <div class="card c5c"><div class="ill i130"><svg class="ab" style="left:745px;top:2440px" width="145" height="150" viewBox="0 0 703 727"><path fill="#3a3a42" d="M248,645 C246,625 262,615 285,612 L322,615 L322,645 Z M450,645 C452,625 438,615 415,612 L388,615 L388,645 Z"/>
<path fill="#3a3a42" d="M280,552 L322,552 L320,620 L284,620 Z M385,552 L427,552 L424,620 L388,620 Z"/>
<path fill="#f09a6e" d="M275,425 L348,425 C346,480 335,520 325,560 L280,560 C270,520 268,470 275,425 Z M432,425 L360,425 C362,480 373,520 383,560 L428,560 C438,520 440,470 432,425 Z"/>
<path fill="#f09a6e" d="M290,180 C240,185 215,215 218,270 C200,310 202,350 212,395 L205,430 C210,452 240,455 250,435 L252,395 C265,350 275,310 285,280 Z M412,180 C462,185 488,215 485,270 C502,310 500,350 490,395 L497,430 C492,452 462,455 452,435 L450,395 C437,350 427,310 417,280 Z"/>
<path fill="#f09a6e" d="M330,150 L372,150 L378,185 L325,185 Z"/>
<path fill="#f09a6e" d="M296,172 L406,172 L406,250 L296,250 Z"/>
<path fill="#e0201c" d="M288,176 L312,172 C315,215 340,232 351,232 C362,232 387,215 390,172 L414,176 C418,230 420,280 404,322 L420,430 L362,438 L351,420 L340,438 L282,430 L298,322 C282,280 284,230 288,176 Z"/>
<path fill="#f09a6e" d="M312,172 C316,210 340,224 351,224 C362,224 386,210 390,172 C365,165 337,165 312,172 Z"/>
<rect x="294" y="316" width="110" height="24" rx="3" fill="#24242a"/><rect x="340" y="319" width="22" height="18" fill="#55555c"/>
<path fill="#f09a6e" d="M320,125 C318,100 332,92 351,92 C370,92 384,100 382,125 C388,125 388,145 382,147 C380,170 366,182 351,182 C336,182 322,170 320,147 C314,145 314,125 320,125 Z"/>
<path fill="#3a3a42" d="M316,128 C312,98 330,82 351,82 C372,82 390,98 386,128 C382,116 378,110 370,108 L332,108 C324,110 320,116 316,128 Z"/>
<circle cx="338" cy="132" r="3.5" fill="#3a2a2a"/><circle cx="364" cy="132" r="3.5" fill="#3a2a2a"/><path d="M340,160 C346,165 356,165 362,160" stroke="#b35a3a" stroke-width="3" fill="none"/>
<path d="M60,437 L642,437" stroke="#3a3a42" stroke-width="12"/>
<path d="M58,437 L76,437 M625,437 L643,437" stroke="#c9c9cf" stroke-width="16"/>
<rect x="72" y="374" width="88" height="136" rx="34" fill="#4a4a52"/><rect x="88" y="380" width="40" height="124" rx="18" fill="#3a3a42"/>
<rect x="537" y="374" width="88" height="136" rx="34" fill="#4a4a52"/><rect x="570" y="380" width="40" height="124" rx="18" fill="#3a3a42"/>
<path fill="#f09a6e" d="M204,418 C204,400 222,394 240,398 C252,402 254,420 252,438 C250,452 236,456 222,452 C210,448 204,436 204,418 Z M498,418 C498,400 480,394 462,398 C450,402 448,420 450,438 C452,452 466,456 480,452 C492,448 498,436 498,418 Z"/></svg></div><h3>Weightlifter</h3><p>High muscle mass. At 5'10" typically 180–210 lbs. Scale weight does not reflect health alone.</p></div>
  </div>
</div>

<div class="sec s6">
  <h2>Lifestyle Factors That Affect Weight</h2>
  <div class="lead">These four pillars directly influence whether men maintain their ideal weight.</div>
  <div class="grid g4">
    <div class="card c6a"><div class="ill i90"><svg class="ab" style="left:95px;top:2865px" width="100" height="100" viewBox="0 0 703 703"><g fill="#d3dceb">
<rect x="65" y="288" width="265" height="12"/><ellipse cx="120" cy="294" rx="25" ry="46"/><ellipse cx="318" cy="294" rx="14" ry="34"/>
<rect x="145" y="290" width="12" height="205"/><rect x="280" y="290" width="12" height="205"/>
<rect x="185" y="400" width="155" height="16"/><rect x="195" y="416" width="10" height="75"/><rect x="318" y="416" width="10" height="75"/>
<rect x="120" y="488" width="240" height="14"/>
<rect x="495" y="155" width="138" height="15"/><rect x="530" y="160" width="12" height="335"/><rect x="604" y="160" width="12" height="335"/>
<rect x="520" y="400" width="90" height="92"/><rect x="500" y="488" width="140" height="14"/>
</g>
<path d="M520,415 L610,415 M520,430 L610,430 M520,445 L610,445 M520,460 L610,460 M520,475 L610,475" stroke="#e6ecf5" stroke-width="4"/>
<g fill="none" stroke-linecap="round" stroke-linejoin="round" stroke="#f4a582">
<path d="M322,195 L275,240 L278,160" stroke-width="36"/>
<path d="M475,195 L508,250 L420,298" stroke-width="32"/>
</g>
<path fill="#33497a" d="M250,625 C250,605 275,592 310,585 L338,590 L338,625 Z M415,625 C415,605 430,592 445,588 L470,590 L470,625 Z"/>
<path fill="#f4a582" d="M322,425 L375,425 C370,490 355,545 338,592 L305,592 C312,540 318,480 322,425 Z M400,425 L455,425 C460,490 465,545 468,592 L435,592 C425,540 410,480 400,425 Z"/>
<path fill="#1f3f80" d="M325,322 L445,322 L456,432 L392,435 L382,395 L368,435 L310,432 Z"/>
<path fill="#f4a582" d="M352,130 L395,130 L400,165 L350,165 Z"/>
<path fill="#f06a4a" d="M340,152 C360,165 395,165 410,150 C450,155 485,170 495,205 L462,225 C455,260 448,295 445,330 L325,330 C330,290 330,250 325,222 L298,205 C302,175 318,158 340,152 Z"/>
<path fill="#f4a582" d="M348,90 C350,78 372,72 392,80 C402,100 402,125 396,142 C385,155 362,152 352,140 L346,118 L340,112 Z"/>
<path fill="#1d1f2c" d="M345,95 C338,65 365,48 395,52 C420,58 425,85 415,110 C410,125 402,130 398,128 C402,110 398,92 388,84 C372,80 358,86 345,95 Z"/>
<circle cx="240" cy="135" r="28" fill="#3d4d6b"/><circle cx="292" cy="137" r="25" fill="#3d4d6b"/><rect x="255" y="126" width="30" height="16" fill="#3d4d6b"/>
<circle cx="272" cy="150" r="17" fill="#f4a582"/></svg></div><h3>Exercise</h3><p>Builds muscle, burns fat. Resistance training preserves lean mass at every age.</p></div>
    <div class="card c6b"><div class="ill i90"><svg class="ab" style="left:330px;top:2865px" width="100" height="100" viewBox="0 0 703 703"><circle cx="372" cy="330" r="262" fill="#f1f4f7"/><circle cx="372" cy="330" r="215" fill="#e3e9ee"/>
<path fill="#2f9e57" d="M205,185 C215,150 260,130 290,135 C310,105 360,100 385,130 C400,160 395,200 385,225 C375,265 340,290 305,300 L230,250 C205,235 198,210 205,185 Z"/>
<path fill="#268a4a" d="M300,300 C320,250 340,200 355,150 C345,210 330,260 312,305 Z"/>
<path fill="#2f9e57" d="M165,390 C185,370 225,375 245,385 C275,375 310,385 320,410 C325,440 305,455 290,460 C300,480 295,500 275,500 C255,495 250,475 248,465 C235,480 210,475 205,455 C180,450 155,420 165,390 Z"/>
<circle cx="190" cy="255" r="38" fill="#f0622d"/><circle cx="256" cy="250" r="40" fill="#f26a33"/><circle cx="176" cy="326" r="35" fill="#ee6a3a"/>
<circle cx="375" cy="285" r="44" fill="#e53b32"/><circle cx="336" cy="340" r="36" fill="#f0622d"/><circle cx="258" cy="340" r="46" fill="#f26a33"/>
<path d="M238,335 C242,318 262,312 278,322" stroke="#f9a27a" stroke-width="5" fill="none"/>
<path fill="#e8a27e" d="M310,450 C305,400 350,355 420,352 C490,355 540,400 535,460 C530,520 480,548 420,548 C360,548 315,510 310,450 Z"/>
<circle cx="425" cy="480" r="13" fill="#eeb08e"/><circle cx="391" cy="455" r="13" fill="#e8a27e"/><circle cx="340" cy="501" r="13" fill="#e8a27e"/><circle cx="435" cy="515" r="13" fill="#eeb08e"/><circle cx="440" cy="373" r="13" fill="#eeb08e"/><circle cx="444" cy="535" r="13" fill="#e09a74"/><circle cx="455" cy="378" r="13" fill="#e8a27e"/><circle cx="451" cy="493" r="13" fill="#e09a74"/><circle cx="516" cy="432" r="13" fill="#eeb08e"/><circle cx="492" cy="488" r="13" fill="#e09a74"/><circle cx="382" cy="480" r="13" fill="#e8a27e"/><circle cx="391" cy="456" r="13" fill="#e09a74"/><circle cx="427" cy="446" r="13" fill="#eeb08e"/><circle cx="333" cy="416" r="13" fill="#e09a74"/><circle cx="445" cy="506" r="13" fill="#eeb08e"/><circle cx="384" cy="467" r="13" fill="#eeb08e"/><circle cx="416" cy="530" r="13" fill="#e8a27e"/><circle cx="502" cy="472" r="13" fill="#eeb08e"/><circle cx="338" cy="444" r="13" fill="#e09a74"/><circle cx="364" cy="525" r="13" fill="#e8a27e"/><circle cx="514" cy="486" r="13" fill="#e09a74"/><circle cx="385" cy="418" r="13" fill="#eeb08e"/><circle cx="348" cy="478" r="13" fill="#e09a74"/><circle cx="329" cy="422" r="13" fill="#e8a27e"/><circle cx="469" cy="389" r="13" fill="#eeb08e"/><circle cx="430" cy="383" r="13" fill="#e8a27e"/><circle cx="495" cy="511" r="13" fill="#eeb08e"/><circle cx="401" cy="457" r="13" fill="#e09a74"/><circle cx="512" cy="495" r="13" fill="#eeb08e"/><circle cx="412" cy="366" r="13" fill="#e8a27e"/><circle cx="396" cy="497" r="13" fill="#e8a27e"/><circle cx="433" cy="396" r="13" fill="#e09a74"/><circle cx="410" cy="430" r="13" fill="#e09a74"/><circle cx="447" cy="507" r="13" fill="#e8a27e"/><circle cx="422" cy="520" r="13" fill="#e8a27e"/><circle cx="417" cy="459" r="13" fill="#e8a27e"/><circle cx="361" cy="467" r="13" fill="#eeb08e"/><circle cx="501" cy="451" r="13" fill="#eeb08e"/><circle cx="490" cy="445" r="13" fill="#e8a27e"/><circle cx="442" cy="466" r="13" fill="#e09a74"/><circle cx="464" cy="515" r="13" fill="#e8a27e"/><circle cx="361" cy="412" r="13" fill="#e09a74"/><circle cx="423" cy="540" r="13" fill="#e8a27e"/><circle cx="451" cy="411" r="13" fill="#eeb08e"/><circle cx="395" cy="420" r="13" fill="#e8a27e"/><circle cx="425" cy="508" r="13" fill="#e8a27e"/><circle cx="436" cy="510" r="13" fill="#e09a74"/><circle cx="495" cy="401" r="13" fill="#eeb08e"/><circle cx="430" cy="468" r="13" fill="#eeb08e"/><circle cx="424" cy="492" r="13" fill="#e8a27e"/><circle cx="375" cy="474" r="13" fill="#eeb08e"/><circle cx="518" cy="479" r="13" fill="#e09a74"/><circle cx="481" cy="497" r="13" fill="#e09a74"/><circle cx="369" cy="388" r="13" fill="#e09a74"/><circle cx="485" cy="466" r="13" fill="#eeb08e"/><circle cx="446" cy="532" r="13" fill="#e8a27e"/><circle cx="378" cy="513" r="13" fill="#e09a74"/><circle cx="395" cy="504" r="13" fill="#e8a27e"/><circle cx="373" cy="392" r="13" fill="#eeb08e"/><circle cx="387" cy="499" r="13" fill="#eeb08e"/><circle cx="514" cy="491" r="13" fill="#e09a74"/><circle cx="411" cy="436" r="13" fill="#e09a74"/><circle cx="494" cy="514" r="13" fill="#e09a74"/><circle cx="483" cy="388" r="13" fill="#e09a74"/><circle cx="370" cy="402" r="13" fill="#e09a74"/><circle cx="368" cy="483" r="13" fill="#e8a27e"/><circle cx="432" cy="486" r="13" fill="#e09a74"/><circle cx="448" cy="431" r="13" fill="#eeb08e"/><circle cx="478" cy="407" r="13" fill="#e8a27e"/><circle cx="465" cy="510" r="13" fill="#e09a74"/>
<path fill="#f5b48a" d="M410,150 C430,125 490,130 530,175 C575,225 595,320 580,375 C570,405 540,408 515,385 C470,345 425,280 412,215 C408,190 405,165 410,150 Z"/>
<g stroke="#d98556" stroke-width="9" stroke-linecap="round"><path d="M435,195 L490,160"/><path d="M458,250 L525,210"/><path d="M475,300 L555,262"/><path d="M510,340 L565,320"/></g></svg></div><h3>Diet</h3><p>Protein-rich diet supports muscle. Calorie balance is the core of weight management.</p></div>
    <div class="card c6c"><div class="ill i90"><svg class="ab" style="left:565px;top:2865px" width="110" height="100" viewBox="0 0 703 639"><path fill="#6b9ac4" d="M52,405 L340,420 L330,505 L52,500 Z"/>
<path fill="#f4f7fb" d="M52,280 C60,240 100,235 140,250 C200,270 250,310 262,350 C270,390 250,420 200,425 C140,430 80,420 52,400 Z"/>
<path fill="#dde6f0" d="M52,380 C90,410 160,425 200,425 C140,432 80,422 52,402 Z"/>
<path fill="#7aa9cf" d="M500,190 C540,195 600,205 625,215 L625,535 C520,530 400,525 305,520 C310,480 325,450 345,430 C420,380 470,290 500,190 Z"/>
<path fill="#1f3f78" d="M262,330 C290,230 340,160 420,148 C480,145 520,200 550,270 C575,320 590,360 575,395 C520,415 420,432 345,432 C335,400 330,380 335,365 C310,355 285,335 280,300 Z"/>
<path d="M345,395 C400,380 450,360 490,330" stroke="#16305f" stroke-width="5" fill="none"/>
<path fill="#f7c3a8" d="M135,230 C150,180 220,150 270,175 C300,200 315,250 322,290 C318,315 290,325 262,326 C225,330 185,315 165,290 C145,275 130,255 135,230 Z"/>
<path fill="#4a2b2e" d="M95,215 C85,150 140,100 200,100 C240,100 270,125 280,160 C260,150 235,150 215,165 C185,170 160,190 150,215 C140,225 132,240 132,250 C112,245 98,232 95,215 Z"/>
<path d="M165,240 C175,232 190,232 198,238 M215,215 C225,208 240,208 248,214 M200,255 C205,268 215,272 225,268 M222,290 C235,295 248,292 255,282" stroke="#7a4a40" stroke-width="4" fill="none" stroke-linecap="round"/>
<path fill="#f7c3a8" d="M182,400 C190,375 225,362 260,365 C300,372 335,385 350,400 C355,420 345,432 330,434 L215,436 C195,436 180,420 182,400 Z"/>
<path d="M205,400 C220,388 240,385 255,388 M200,418 C215,405 240,400 260,402" stroke="#e0a488" stroke-width="4" fill="none"/></svg></div><h3>Sleep</h3><p>Poor sleep raises cortisol and ghrelin, increasing hunger and fat storage in men.</p></div>
    <div class="card c6d"><div class="ill i90"><svg class="ab" style="left:800px;top:2865px" width="100" height="100" viewBox="0 0 703 703"><g fill="none" stroke-linecap="round" stroke-linejoin="round" stroke="#f5b08c">
<path d="M255,390 L220,445 L120,472" stroke-width="36"/><path d="M505,390 L540,445 L640,472" stroke-width="36"/>
<path d="M100,455 L88,470 M118,440 L112,462 M140,450 L128,470 M660,455 L672,470 M642,440 L648,462 M620,450 L632,470" stroke-width="12"/>
</g>
<circle cx="112" cy="478" r="24" fill="#f5b08c"/><circle cx="648" cy="478" r="24" fill="#f5b08c"/>
<path fill="#f5b08c" d="M245,612 C245,590 290,580 360,585 L360,625 L262,625 C250,622 245,618 245,612 Z M515,618 C515,600 480,596 420,600 L420,626 L500,626 C510,625 515,622 515,618 Z"/>
<path fill="#2f5f95" d="M150,520 C170,490 240,480 300,490 L460,490 C520,480 600,490 618,525 C625,560 580,585 520,598 C470,610 410,618 385,618 L362,585 C300,590 230,588 190,575 C155,562 140,540 150,520 Z"/>
<path d="M200,530 C260,560 320,575 362,585 M560,520 C500,550 420,575 362,585" stroke="#264f80" stroke-width="5" fill="none"/>
<path fill="#f5b08c" d="M350,215 L410,215 L415,262 L345,262 Z"/>
<path fill="#d4623f" d="M340,245 C360,272 400,272 420,245 C480,250 520,270 530,320 L538,385 L482,398 L478,515 C420,522 340,522 282,515 L278,398 L222,385 L230,320 C240,270 280,250 340,245 Z"/>
<path fill="#f5b08c" d="M336,150 C336,112 355,100 380,100 C405,100 424,112 424,150 C432,150 432,178 423,180 C420,212 400,232 380,232 C360,232 340,212 337,180 C328,178 328,150 336,150 Z"/>
<path fill="#16233f" d="M330,160 C312,120 330,85 362,78 C372,55 410,52 422,75 C445,85 448,125 432,160 C428,140 420,125 408,118 C390,125 360,125 348,120 C338,130 332,145 330,160 Z"/>
<path d="M352,158 L370,158 M392,158 L410,158 M372,200 L390,200" stroke="#3a2a2a" stroke-width="4" stroke-linecap="round"/></svg></div><h3>Stress</h3><p>Chronic stress elevates cortisol, promoting abdominal fat gain even without diet changes.</p></div>
  </div>
</div>

<div class="sec s7">
  <h2>Body Composition Matters More Than Scale Weight</h2>
  <div class="grid g2">
    <div class="card c7"><div class="ill i140"><svg class="ab" style="left:55px;top:3225px" width="160" height="145" viewBox="0 0 703 637"><path fill="#f7b98a" d="M175,185 C135,225 90,280 90,330 C88,400 100,500 106,580 L262,580 C258,480 285,380 272,285 C262,235 240,200 228,165 Z"/>
<path fill="#f7b98a" d="M130,75 C160,55 215,60 235,95 C248,130 238,165 225,185 L180,200 C160,200 135,195 125,180 L122,160 L110,152 L122,130 C118,110 120,90 130,75 Z"/>
<path fill="#b5622e" d="M135,80 C150,45 225,40 250,85 C262,115 250,150 238,165 C225,160 215,150 212,135 C200,138 190,132 186,120 C180,100 160,85 135,80 Z"/>
<path fill="#fbe0b8" d="M162,262 C175,230 225,228 245,255 C262,290 258,340 245,385 C232,440 205,520 175,580 L155,580 C160,520 158,470 162,420 C150,370 150,310 162,262 Z"/>
<path fill="#c9453a" d="M172,268 C182,242 222,240 238,262 C252,295 248,335 236,375 C225,370 215,362 208,350 C196,362 184,370 174,372 C164,340 162,300 172,268 Z M176,388 C188,384 200,374 208,364 C216,376 226,384 234,390 C222,440 198,515 170,572 L166,572 C172,515 170,465 172,420 Z"/>
<path d="M195,262 C192,300 196,330 204,350 M215,258 C222,295 220,325 212,350 M185,420 C190,460 185,510 176,560 M215,400 C208,440 198,490 182,548" stroke="#a8352c" stroke-width="3" fill="none"/>
<path d="M98,345 C115,355 140,352 158,340 M100,410 C118,415 135,414 150,408 M102,450 C118,455 132,454 145,448 M118,480 C125,500 122,530 112,560" stroke="#e39a68" stroke-width="4" fill="none"/>
<path fill="#f7b98a" d="M470,190 C400,215 320,300 310,420 C300,520 340,580 400,582 L590,582 C610,540 612,480 590,440 C600,380 598,300 580,240 C570,215 555,195 540,185 Z"/>
<path fill="#f7b98a" d="M435,75 C465,55 520,60 540,95 C553,130 543,165 535,190 L470,200 C455,200 438,195 430,180 L428,160 L414,152 L426,130 C422,110 424,90 435,75 Z"/>
<path fill="#b5622e" d="M440,80 C455,45 530,40 555,85 C567,115 555,150 543,165 C530,160 520,150 517,135 C505,138 495,132 491,120 C485,100 465,85 440,80 Z"/>
<path fill="#fbe0b8" d="M385,400 C380,300 430,225 500,220 C570,222 592,300 582,400 C572,490 520,550 460,550 C410,548 388,480 385,400 Z"/>
<path fill="#c9452a" d="M397,400 C393,310 438,240 500,234 C560,236 580,308 570,400 C560,480 515,536 462,536 C418,534 400,470 397,400 Z"/>
<path fill="#fbcf55" d="M410,400 C406,320 446,254 500,248 C550,250 566,316 557,400 C548,470 510,522 463,522 C428,520 413,462 410,400 Z"/></svg></div><h3>Muscle vs. Fat</h3><p>Muscle is denser than fat. A muscular man may weigh more than the chart suggests yet be perfectly healthy. Always consider body fat percentage alongside scale weight.</p></div>
    <div class="card c7 c7b"><div class="ill i100b"><svg class="ab" style="left:525px;top:3225px" width="160" height="145" viewBox="0 0 703 637"><g stroke="#1f2a44" stroke-width="6" stroke-linejoin="round" stroke-linecap="round">
<path fill="#fbd4b4" stroke="none" d="M205,56 C215,120 225,180 222,250 C215,310 200,360 195,395 L592,395 C585,340 570,300 568,240 C570,170 580,110 590,56 Z"/>
<path fill="none" d="M205,58 C215,120 225,180 222,250 M568,240 C570,170 580,110 590,58"/>
<path fill="#3e5f8f" d="M196,388 C300,400 480,400 590,385 C598,450 602,520 605,578 L400,578 L392,500 L382,578 L175,578 C180,520 188,450 196,388 Z"/>
<path fill="#fbd4b4" stroke="none" d="M72,56 C55,110 42,160 48,205 C70,260 120,320 165,355 C185,372 225,378 262,352 C272,330 270,305 258,285 C232,262 195,250 165,245 C145,215 125,185 118,165 C140,140 175,100 205,56 Z"/>
<path fill="none" d="M72,58 C55,110 42,160 48,205 C70,260 120,320 165,355 C185,372 225,378 262,352 C272,330 270,305 258,285 C232,262 195,250 165,245 C145,215 125,185 118,165 C140,140 175,100 205,58"/>
<path fill="#fbd4b4" stroke="none" d="M590,56 L655,56 L655,280 C630,330 580,372 540,378 C510,380 488,365 482,345 C478,320 485,300 500,285 C525,265 550,250 572,240 L655,145 Z"/>
<path fill="none" d="M590,58 L655,145 L572,240 C550,250 525,265 500,285 C485,300 478,320 482,345 C488,365 510,380 540,378 C580,372 630,330 655,280"/>
<path fill="#f3bd2e" stroke="#b8860b" stroke-width="4" d="M268,292 C330,280 420,290 520,322 L512,356 C420,325 335,318 272,330 Z"/>
<path fill="#f3bd2e" stroke="#b8860b" stroke-width="4" d="M182,352 C150,345 115,365 95,395 C75,425 55,440 50,455 L62,468 C80,460 105,440 125,410 C140,385 165,375 195,380 Z"/>
<path fill="#fbd4b4" d="M205,295 C230,285 258,290 270,300 C262,312 245,318 225,320 C240,328 258,335 262,345 C245,358 220,362 200,350"/>
<path fill="#fbd4b4" d="M548,290 C525,285 498,295 488,310 C500,320 520,322 535,320 C520,330 505,340 502,352 C520,365 545,362 562,350"/>
<path fill="none" d="M300,292 l2,14 M325,290 l1,14 M350,290 l1,14 M375,292 l0,14 M400,294 l-1,14 M425,298 l-2,14 M450,303 l-3,14 M475,310 l-3,13 M498,318 l-4,12 M100,400 l10,8 M120,378 l10,8 M145,362 l6,10 M80,425 l10,8" stroke-width="3"/>
<circle cx="395" cy="262" r="4" fill="#1f2a44" stroke="none"/>
<path fill="none" d="M388,500 C390,470 392,450 392,430" stroke-width="4"/>
</g></svg></div><h3>Waist Circumference</h3><p>Men should aim for a waist under 40 inches. Waist above 40 in raises risk of cardiovascular disease and metabolic syndrome regardless of overall weight.</p></div>
  </div>
</div>

<div class="ftr">
  <div>GymCreek.com — Ideal Weight Chart for Men<br>Consult your doctor before starting any weight loss or fitness program.</div>
  <b>GymCreek.com</b>
</div>
</body>
</html>
